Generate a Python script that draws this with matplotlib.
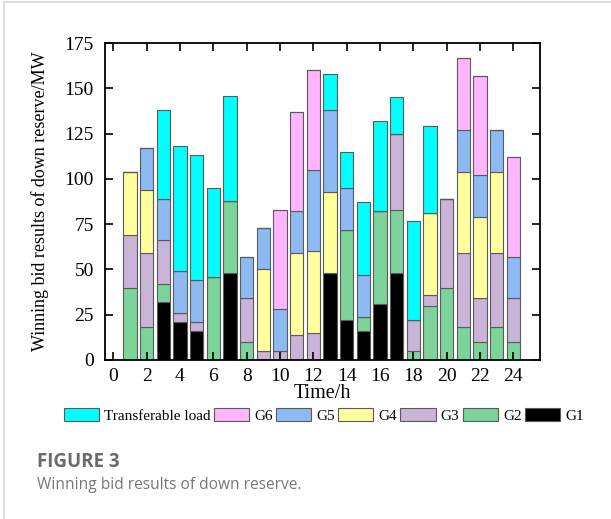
import matplotlib.pyplot as plt
import numpy as np

# Winning bid results of down reserve (MW), hours 1..24
hours = np.arange(1, 25)
g1 = [0, 0, 32, 21, 16, 0, 48, 0, 0, 0, 0, 0, 48, 22, 16, 31, 48, 0, 0, 0, 0, 0, 0, 0]
g2 = [40, 18, 10, 0, 0, 46, 40, 10, 0, 0, 0, 0, 0, 50, 8, 51, 35, 5, 30, 40, 18, 10, 18, 10]
g3 = [29, 41, 24, 5, 5, 0, 0, 24, 5, 5, 14, 15, 0, 0, 0, 0, 42, 17, 6, 49, 41, 24, 41, 24]
g4 = [35, 35, 0, 0, 0, 0, 0, 0, 45, 0, 45, 45, 45, 0, 0, 0, 0, 0, 45, 0, 45, 45, 45, 0]
g5 = [0, 23, 23, 23, 23, 0, 0, 23, 23, 23, 23, 45, 45, 23, 23, 0, 0, 0, 0, 0, 23, 23, 23, 23]
g6 = [0, 0, 0, 0, 0, 0, 0, 0, 0, 55, 55, 55, 0, 0, 0, 0, 0, 0, 0, 0, 40, 55, 0, 55]
tl = [0, 0, 49, 69, 69, 49, 58, 0, 0, 0, 0, 0, 20, 20, 40, 50, 20, 55, 48, 0, 0, 0, 0, 0]

series = [('G1', g1, '#000000'),
          ('G2', g2, '#7dd49b'),
          ('G3', g3, '#c9b3d7'),
          ('G4', g4, '#ffff9e'),
          ('G5', g5, '#8ebaf3'),
          ('G6', g6, '#ffb5ff'),
          ('Transferable load', tl, '#00ffff')]

plt.rcParams['font.family'] = 'Liberation Serif'

fig = plt.figure(figsize=(6.11, 5.19), dpi=100)
ax = fig.add_axes([0.1718, 0.3064, 0.712, 0.6107])

bottom = np.zeros(len(hours))
handles = {}
for name, vals, col in series:
    vals = np.array(vals, dtype=float)
    h = ax.bar(hours, vals, width=0.8, bottom=bottom, color=col,
               edgecolor='#5a5a5a', linewidth=0.8)
    handles[name] = h
    bottom += vals

ax.set_xlim(-0.5, 25.6)
ax.set_ylim(0, 175)
ax.set_xticks(np.arange(0, 25, 2))
ax.set_yticks(np.arange(0, 176, 25))
ax.tick_params(direction='in', length=6, width=1.2, labelsize=14,
               top=True, right=True)
ax.tick_params(axis='x', pad=6)
ax.tick_params(axis='y', pad=8)
for s in ax.spines.values():
    s.set_linewidth(1.3)

ax.set_xlabel('Time/h', fontsize=14.5, labelpad=-1)
ax.set_ylabel('Winning bid results of down reserve/MW', fontsize=13, labelpad=11)

order = ['Transferable load', 'G6', 'G5', 'G4', 'G3', 'G2', 'G1']
fig.legend([handles[k] for k in order], order, loc='center',
           bbox_to_anchor=(0.530, 0.200), ncol=7, frameon=False,
           fontsize=11, handlelength=2.3, handleheight=1.0,
           handletextpad=0.35, columnspacing=0.2, borderaxespad=0)

# caption
fig.text(0.060, 0.110, 'FIGURE 3', fontsize=13.5, fontweight='bold',
         color='#6b6b6b', family='Open Sans', va='center')
fig.text(0.060, 0.065, 'Winning bid results of down reserve.', fontsize=11.2,
         color='#777777', family='Open Sans', va='center')

# page border lines
fig.add_artist(plt.Line2D([0.0065, 1.0], [0.996, 0.996], color='#d8d8d8', lw=1.2))
fig.add_artist(plt.Line2D([0.0065, 0.0065], [0.0, 0.996], color='#d8d8d8', lw=1.2))

fig.savefig('out.png', dpi=100)
